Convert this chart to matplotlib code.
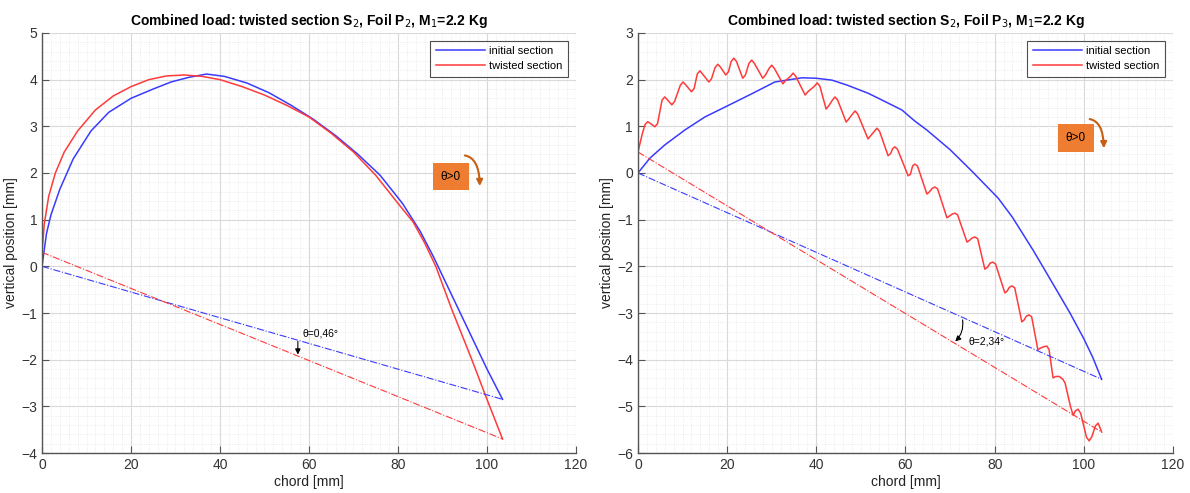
import matplotlib
matplotlib.use("Agg")
import matplotlib.pyplot as plt
from matplotlib.ticker import MultipleLocator
from matplotlib.patches import FancyArrowPatch

plt.rcParams['font.family'] = ['Liberation Sans', 'DejaVu Sans']

# ---------------- data ----------------
titles = ["Combined load: twisted section S$_2$, Foil P$_2$, M$_1$=2.2 Kg",
          "Combined load: twisted section S$_2$, Foil P$_3$, M$_1$=2.2 Kg"]
legend_labels = ["initial section", "twisted section"]
xlabel = "chord [mm]"
ylabel = "vertical position [mm]"

# left chart (Foil P2)
L_init_x = [0, 1, 2, 4, 7, 11, 15, 20, 25, 29, 33, 37, 41, 46, 51, 56, 61, 66, 71, 76, 81, 85, 88, 91, 94, 97, 100, 103.5]
L_init_y = [0, 0.7, 1.1, 1.65, 2.3, 2.9, 3.3, 3.6, 3.8, 3.95, 4.05, 4.12, 4.07, 3.93, 3.72, 3.45, 3.15, 2.8, 2.4, 1.95, 1.35, 0.75, 0.2, -0.4, -1.0, -1.6, -2.2, -2.85]
L_twist_x = [0, 0.5, 1.5, 3, 5, 8, 12, 16, 20, 24, 28, 32, 36, 40, 45, 50, 55, 60, 65, 70, 75, 80, 83.4, 86, 88.5, 92, 96.6, 100, 103.5]
L_twist_y = [0.3, 0.9, 1.5, 2.0, 2.45, 2.9, 3.35, 3.65, 3.85, 4.0, 4.08, 4.1, 4.07, 4.0, 3.85, 3.67, 3.45, 3.2, 2.85, 2.45, 1.95, 1.35, 0.95, 0.5, 0.0, -0.9, -2.0, -2.85, -3.7]
L_chord_init = ([0, 103.5], [0, -2.85])
L_chord_twist = ([0, 103.5], [0.3, -3.7])
L_angle = "θ=0,46°"

# right chart (Foil P3)
R_init_x = [0, 2.7, 6, 10.5, 15, 21.8, 26, 30.7, 36.8, 40, 43.5, 47, 51.6, 55, 59.2, 62, 64.8, 70, 75.1, 80.8, 84, 88.6, 92, 96.9, 100, 102, 104]
R_init_y = [0, 0.32, 0.6, 0.92, 1.2, 1.52, 1.72, 1.95, 2.04, 2.03, 1.99, 1.88, 1.71, 1.55, 1.35, 1.12, 0.92, 0.5, 0.02, -0.54, -0.95, -1.65, -2.2, -3.0, -3.55, -3.95, -4.42]
R_twist_x = [0, 1, 1.6, 2.2, 2.8, 3.8, 4.4, 5.4, 6, 6.6, 7.6, 8.2, 9.5, 10.1, 10.7, 12, 12.6, 13.3, 13.9, 14.5,
             15.9, 16.5, 17.3, 17.9, 18.5, 19.7, 20.3, 20.9, 21.5, 22.1, 23.5, 24.1, 24.9, 25.5, 26.1,
             28, 28.6, 29.4, 30, 30.6, 32.5, 33.1, 34.2, 34.8, 35.4, 37.5, 38.1, 39.6, 40.2, 40.8,
             42.2, 42.8, 43.6, 44.2, 44.8, 46.7, 47.3, 48.1, 48.7, 49.3, 51.6, 52.2, 53.0, 53.6, 54.2,
             56.1, 56.7, 57.1, 57.6, 58.2, 60.6, 61.1, 61.6, 62.1, 62.7, 64.8, 65.3, 66.0, 66.6, 67.2,
             69.3, 69.9, 70.5, 71.1, 71.7, 73.8, 74.4, 75.0, 75.6, 76.2, 77.8, 78.4, 79.0, 79.6, 80.2,
             82.3, 82.8, 83.3, 83.9, 84.5, 86.1, 86.6, 87.1, 87.7, 88.3, 89.7, 90.3, 91.1, 91.7, 92.2,
             93.1, 93.7, 94.5, 95.3, 95.8, 97.0, 97.6, 98.1, 98.7, 99.3, 100.6, 101.2, 101.8, 102.6,
             103.2, 103.6, 104]
R_twist_y = [0.45, 0.85, 1.04, 1.1, 1.06, 0.99, 1.06, 1.56, 1.63, 1.57, 1.46, 1.53, 1.88, 1.95, 1.89,
             1.74, 1.81, 2.12, 2.19, 2.12, 1.95, 2.02, 2.26, 2.33, 2.27, 2.1, 2.17, 2.39, 2.46, 2.39,
             2.03, 2.1, 2.35, 2.42, 2.35, 2.03, 2.1, 2.24, 2.31, 2.24, 1.91, 1.98, 2.07, 2.14, 2.07,
             1.67, 1.74, 1.86, 1.93, 1.86, 1.37, 1.44, 1.56, 1.63, 1.56, 1.09, 1.16, 1.26, 1.33, 1.26,
             0.73, 0.8, 0.89, 0.96, 0.89, 0.37, 0.42, 0.52, 0.56, 0.51, -0.06, -0.03, 0.15, 0.19, 0.15,
             -0.45, -0.41, -0.33, -0.3, -0.34, -0.96, -0.92, -0.88, -0.86, -0.9, -1.48, -1.44, -1.39,
             -1.37, -1.41, -2.06, -2.02, -1.93, -1.91, -1.95, -2.57, -2.53, -2.45, -2.42, -2.46,
             -3.19, -3.15, -3.07, -3.04, -3.08, -3.79, -3.75, -3.72, -3.71, -3.78, -4.39, -4.36, -4.36,
             -4.42, -4.5, -5.0, -5.19, -5.1, -5.06, -5.15, -5.66, -5.74, -5.65, -5.42, -5.36, -5.45, -5.55]
R_chord_init = ([0, 104], [0, -4.42])
R_chord_twist = ([0, 104], [0.45, -5.55])
R_angle = "θ=2,34°"

# ---------------- style ----------------
BLUE = '#3a3aff'
RED = '#ff3a3a'
ORANGE = '#ee7d31'
ORANGE_DARK = '#c65f14'
GRAY = '#555555'

fig = plt.figure(figsize=(11.9, 4.93), dpi=100)
axL = fig.add_axes([0.0353, 0.0811, 0.4487, 0.852])
axR = fig.add_axes([0.5361, 0.0811, 0.4496, 0.852])


def style(ax, ylim):
    ax.set_xlim(0, 120)
    ax.set_ylim(*ylim)
    ax.xaxis.set_major_locator(MultipleLocator(20))
    ax.xaxis.set_minor_locator(MultipleLocator(2))
    ax.yaxis.set_major_locator(MultipleLocator(1))
    ax.yaxis.set_minor_locator(MultipleLocator(0.2))
    ax.grid(which='major', color='#d9d9d9', linewidth=0.8, linestyle='-')
    ax.grid(which='minor', color='#e6e6e6', linewidth=0.6, linestyle=':')
    ax.set_axisbelow(True)
    for s in ['top', 'right']:
        ax.spines[s].set_visible(False)
    for s in ['left', 'bottom']:
        ax.spines[s].set_color(GRAY)
        ax.spines[s].set_linewidth(1.0)
    ax.tick_params(which='major', direction='in', length=5, color=GRAY, labelcolor='#333333', labelsize=10)
    ax.tick_params(which='minor', length=0)
    ax.set_xlabel(xlabel, fontsize=10, color='#222222', labelpad=2)
    ax.set_ylabel(ylabel, fontsize=10, color='#222222', labelpad=2)


def draw(ax, title, ix, iy, tx, ty, ci, ct, ylim):
    style(ax, ylim)
    ax.plot(ix, iy, color=BLUE, lw=1.1, label=legend_labels[0], solid_joinstyle='round')
    ax.plot(tx, ty, color=RED, lw=1.1, label=legend_labels[1], solid_joinstyle='round')
    ax.plot(ci[0], ci[1], color=BLUE, lw=0.8, ls='-.')
    ax.plot(ct[0], ct[1], color=RED, lw=0.8, ls='-.')
    ax.set_title(title, fontsize=10, fontweight='bold', pad=6)
    leg = ax.legend(loc='upper right', fontsize=8, frameon=True, fancybox=False,
                    borderpad=0.5, handlelength=4.4, handletextpad=0.4, labelspacing=0.45,
                    borderaxespad=0.7)
    leg.get_frame().set_edgecolor('#222222')
    leg.get_frame().set_linewidth(0.8)


draw(axL, titles[0], L_init_x, L_init_y, L_twist_x, L_twist_y, L_chord_init, L_chord_twist, (-4, 5))
draw(axR, titles[1], R_init_x, R_init_y, R_twist_x, R_twist_y, R_chord_init, R_chord_twist, (-6, 3))

# angle annotations
axL.annotate('', xy=(57.5, -1.95), xytext=(57.5, -1.55),
             arrowprops=dict(arrowstyle='-|>', color='black', lw=0.8, mutation_scale=8))
axL.text(58.6, -1.44, L_angle, fontsize=7.5, va='center', ha='left')

axR.annotate('', xy=(70.7, -3.65), xytext=(72.7, -3.09),
             arrowprops=dict(arrowstyle='-|>', color='black', lw=0.8, mutation_scale=8,
                             connectionstyle='arc3,rad=-0.3'))
axR.text(74.1, -3.6, R_angle, fontsize=7.5, va='center', ha='left')

# theta>0 boxes
axL.text(91.9, 1.92, 'θ>0', fontsize=8.5, ha='center', va='center',
         bbox=dict(boxstyle='square,pad=0.65', fc=ORANGE, ec='none'))
axL.add_patch(FancyArrowPatch((94.4, 2.38), (98.4, 1.66), arrowstyle='-|>', mutation_scale=9,
                              color=ORANGE_DARK, lw=1.5, connectionstyle='angle3,angleA=0,angleB=-90'))
axR.text(98.2, 0.75, 'θ>0', fontsize=8.5, ha='center', va='center',
         bbox=dict(boxstyle='square,pad=0.65', fc=ORANGE, ec='none'))
axR.add_patch(FancyArrowPatch((100.7, 1.16), (104.5, 0.47), arrowstyle='-|>', mutation_scale=9,
                              color=ORANGE_DARK, lw=1.5, connectionstyle='angle3,angleA=0,angleB=-90'))

fig.savefig('out.png', dpi=100)
